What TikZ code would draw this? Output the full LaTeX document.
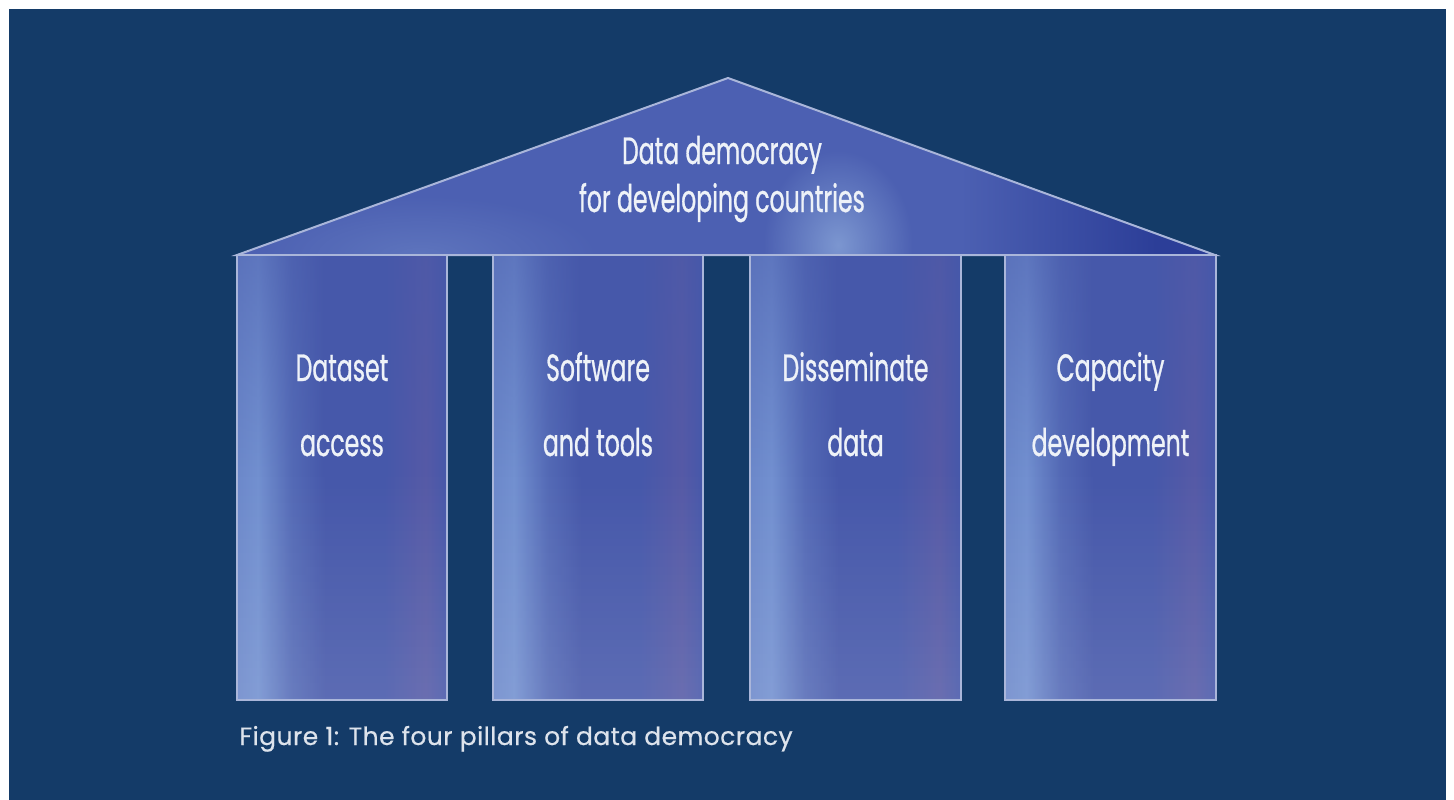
\documentclass[tikz,border=0pt]{standalone}
\usepackage{fontspec}
\usepackage{tikz}
\usetikzlibrary{fadings}
\newfontfamily\condfont[FakeStretch=0.62, FakeBold=0.7]{Poppins}
\newfontfamily\capfont[LetterSpace=1.8, FakeBold=0.5]{Poppins}

\definecolor{navy}{RGB}{20,59,104}
\definecolor{pilledge}{RGB}{108,136,202}
\definecolor{pilllight}{RGB}{114,144,208}
\definecolor{pillmid}{RGB}{84,106,182}
\definecolor{pilldark}{RGB}{70,88,170}
\definecolor{pillviolet}{RGB}{86,90,166}
\definecolor{roofbase}{RGB}{76,96,178}
\definecolor{roofdark}{RGB}{44,62,152}
\definecolor{rooflight}{RGB}{136,164,216}
\definecolor{rimline}{RGB}{170,182,218}
\definecolor{textlight}{RGB}{238,242,248}

\pgfdeclarehorizontalshading{pillarshade}{100bp}{color(0bp)=(pilledge); color(25bp)=(pilledge);
  color(30bp)=(pilllight); color(38bp)=(pillmid); color(46bp)=(pilldark); color(60bp)=(pilldark);
  color(70bp)=(pillviolet); color(75bp)=(pilldark); color(100bp)=(pilldark)}
\pgfdeclarehorizontalshading{roofshade}{100bp}{color(0bp)=(roofbase); color(25bp)=(roofbase);
  color(50bp)=(roofbase); color(62bp)=(roofbase); color(72bp)=(roofdark); color(100bp)=(roofdark)}
\tikzfading[name=glow, inner color=transparent!0, outer color=transparent!100]

\tikzset{
  pillarbox/.style={shading=pillarshade, minimum width=210pt, minimum height=445pt, inner sep=0pt},
  pillartext/.style={text=textlight, align=center, font=\condfont\fontsize{38}{75}\selectfont},
  rooftext/.style={text=textlight, align=center, font=\condfont\fontsize{38}{48}\selectfont},
  captext/.style={text=textlight!92!navy, font=\capfont\fontsize{25}{30}\selectfont}
}

\begin{document}
\begin{tikzpicture}[x=1pt,y=-1pt]
    \useasboundingbox (0,0) rectangle (1454,800);
    \fill[white] (0,0) rectangle (1454,800);
    \fill[navy] (9,9) rectangle (1446,801);

    % roof
    \coordinate (apex) at (728,78);
    \coordinate (eaveL) at (237,255);
    \coordinate (eaveR) at (1215,255);
    \shade[shading=roofshade] (eaveL) -- (apex) -- (eaveR) -- cycle;
    \begin{scope}
        \clip (eaveL) -- (apex) -- (eaveR) -- cycle;
        \fill[rooflight, path fading=glow, opacity=0.8] (838,245) ellipse (75 and 95);
        \fill[rooflight, path fading=glow, opacity=0.3] (420,255) ellipse (180 and 60);
    \end{scope}
    \draw[rimline, line width=2pt, line join=miter] (eaveL) -- (apex) -- (eaveR) -- cycle;
    \node[rooftext, anchor=base] (roof) at (722,212) {Data democracy\\for developing countries};

    % pillars
    \foreach \cx/\txt [count=\i] in {342/{Dataset\\access}, 598/{Software\\and tools},
        855.5/{Disseminate\\data}, 1110.5/{Capacity\\development}} {
        \node[pillarbox] (p\i) at (\cx,477.5) {};
        \fill[white, opacity=0.12, path fading=north] (p\i.south west) rectangle (p\i.east);
        \fill[pilldark, opacity=0.45, path fading=south] (p\i.west) rectangle (p\i.north east);
        \draw[rimline, line width=2pt] (p\i.south west) rectangle (p\i.north east);
        \node[pillartext, anchor=base] (t\i) at (\cx,456) {\txt};
    }

    \node[captext, anchor=base west] (cap) at (236,745) {Figure 1: The four pillars of data democracy};
\end{tikzpicture}
\end{document}
